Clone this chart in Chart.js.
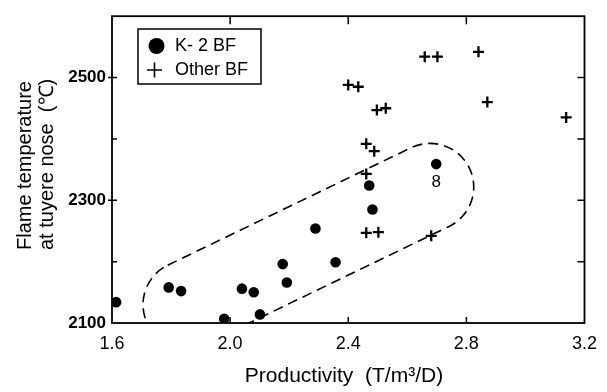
<!DOCTYPE html>
<html>
<head>
<meta charset="utf-8">
<script src="https://cdn.jsdelivr.net/npm/chart.js@4/dist/chart.umd.min.js"></script>
<style>
  html, body { margin: 0; padding: 0; background: #ffffff; }
  #wrap { width: 607px; height: 392px; position: relative; }
</style>
</head>
<body>
<div id="wrap"><canvas id="c" width="607" height="392"></canvas></div>
<script>
// ---- data ----
const k2Productivity = [1.614, 1.792, 1.834, 1.980, 2.040, 2.080, 2.101, 2.178, 2.192, 2.289, 2.357, 2.471, 2.482, 2.698];
const k2FlameTemp    = [2134, 2158, 2152, 2107, 2156, 2150, 2114, 2196, 2166, 2254, 2199, 2324, 2285, 2359];

const otherProductivity = [2.400, 2.434, 2.497, 2.527, 2.659, 2.702, 2.841, 2.871, 3.138, 2.461, 2.488, 2.461, 2.461, 2.502, 2.681];
const otherFlameTemp    = [2488, 2485, 2447, 2450, 2534, 2534, 2542, 2460, 2435, 2392, 2380, 2343, 2247, 2248, 2242];

const xTicks = [1.6, 2.0, 2.4, 2.8, 3.2];
const xTickLabels = ['1.6', '2.0', '2.4', '2.8', '3.2'];
const yTicks = [2100, 2200, 2300, 2400, 2500, 2600];
const yTickLabels = ['2100', '', '2300', '', '2500', ''];

const seriesNames = ['K- 2 BF', 'Other BF'];
const xTitle = 'Productivity  (T/m\u00B3/D)';
const yTitleLines = ['Flame temperature', 'at tuyere nose  (\u2103)'];

// dashed envelope around K-2 BF points: centre-line ends (data units) and radius (x units)
const envelopeEnds = [[1.853, 2130], [2.677, 2321.5]];
const envelopeRadiusX = 0.148;
// annotation "8" beside the highlighted point
const noteText = '8';
const notePoint = [2.698, 2329];

const FONT = "'Liberation Sans', Arial, sans-serif";

const k2Data = k2Productivity.map((x, i) => ({ x: x, y: k2FlameTemp[i] }));
const otherData = otherProductivity.map((x, i) => ({ x: x, y: otherFlameTemp[i] }));

const decor = {
  id: 'decor',
  afterDraw(chart) {
    const ctx = chart.ctx;
    const a = chart.chartArea;
    const xs = chart.scales.x, ys = chart.scales.y;
    ctx.save();
    ctx.strokeStyle = '#000';
    ctx.fillStyle = '#000';

    // frame
    ctx.lineWidth = 1.8;
    ctx.strokeRect(a.left, a.top, a.right - a.left, a.bottom - a.top);

    // inward ticks
    ctx.lineWidth = 1.5;
    ctx.beginPath();
    xTicks.forEach(v => {
      const p = xs.getPixelForValue(v);
      if (p <= a.left + 1 || p >= a.right - 1) return;
      ctx.moveTo(p, a.bottom); ctx.lineTo(p, a.bottom - 6);
      ctx.moveTo(p, a.top); ctx.lineTo(p, a.top + 8);
    });
    yTicks.forEach((v, i) => {
      const p = ys.getPixelForValue(v);
      if (p <= a.top + 1 || p >= a.bottom - 1) return;
      ctx.moveTo(a.right, p); ctx.lineTo(a.right - 7, p);
      ctx.moveTo(a.left, p); ctx.lineTo(a.left + 5, p);
      if (yTickLabels[i]) { ctx.moveTo(a.left, p); ctx.lineTo(a.left - 4, p); }
    });
    ctx.stroke();

    // dashed envelope
    ctx.save();
    ctx.beginPath();
    ctx.rect(a.left, a.top, a.right - a.left, a.bottom - a.top);
    ctx.clip();
    const c1 = { x: xs.getPixelForValue(envelopeEnds[0][0]), y: ys.getPixelForValue(envelopeEnds[0][1]) };
    const c2 = { x: xs.getPixelForValue(envelopeEnds[1][0]), y: ys.getPixelForValue(envelopeEnds[1][1]) };
    const r = xs.getPixelForValue(envelopeEnds[0][0] + envelopeRadiusX) - c1.x;
    const dx = c2.x - c1.x, dy = c2.y - c1.y, L = Math.hypot(dx, dy);
    const ux = dy / L, uy = -dx / L;
    const phi = Math.atan2(uy, ux);
    ctx.setLineDash([10, 6]);
    ctx.lineWidth = 1.6;
    ctx.beginPath();
    ctx.moveTo(c1.x + r * ux, c1.y + r * uy);
    ctx.lineTo(c2.x + r * ux, c2.y + r * uy);
    ctx.arc(c2.x, c2.y, r, phi, phi + Math.PI, false);
    ctx.lineTo(c1.x - r * ux, c1.y - r * uy);
    ctx.arc(c1.x, c1.y, r, phi + Math.PI, phi + 2 * Math.PI, false);
    ctx.stroke();
    ctx.restore();
    ctx.setLineDash([]);

    // note "8"
    ctx.font = '17px ' + FONT;
    ctx.textAlign = 'center';
    ctx.textBaseline = 'middle';
    ctx.fillText(noteText, xs.getPixelForValue(notePoint[0]), ys.getPixelForValue(notePoint[1]));

    // legend box
    const lx = 138, ly = 29, lw = 123, lh = 55;
    ctx.fillStyle = '#fff';
    ctx.fillRect(lx, ly, lw, lh);
    ctx.fillStyle = '#000';
    ctx.lineWidth = 1.5;
    ctx.strokeRect(lx, ly, lw, lh);
    ctx.beginPath();
    ctx.arc(156.5, 46, 8, 0, Math.PI * 2);
    ctx.fill();
    ctx.lineWidth = 1.6;
    ctx.beginPath();
    ctx.moveTo(147, 70); ctx.lineTo(162, 70);
    ctx.moveTo(154.5, 62.5); ctx.lineTo(154.5, 77.5);
    ctx.stroke();
    ctx.font = '18px ' + FONT;
    ctx.textAlign = 'left';
    ctx.textBaseline = 'middle';
    ctx.fillText(seriesNames[0], 175, 46);
    ctx.fillText(seriesNames[1], 175, 70);

    // x title
    ctx.font = '21px ' + FONT;
    ctx.textAlign = 'center';
    ctx.textBaseline = 'middle';
    ctx.fillText(xTitle, 344, 376);

    // y title (two lines, start-aligned at bottom)
    ctx.font = '20px ' + FONT;
    ctx.textAlign = 'left';
    ctx.textBaseline = 'middle';
    [[25, yTitleLines[0]], [47, yTitleLines[1]]].forEach(([x, t]) => {
      ctx.save();
      ctx.translate(x, 250);
      ctx.rotate(-Math.PI / 2);
      ctx.fillText(t, 0, 0);
      ctx.restore();
    });
    ctx.restore();
  }
};

new Chart(document.getElementById('c'), {
  type: 'scatter',
  data: {
    datasets: [
      {
        label: seriesNames[0],
        data: k2Data,
        pointStyle: 'circle',
        pointRadius: 5.3,
        pointHoverRadius: 5.3,
        backgroundColor: '#000',
        borderColor: '#000',
        borderWidth: 0
      },
      {
        label: seriesNames[1],
        data: otherData,
        pointStyle: 'cross',
        pointRadius: 5.5,
        pointHoverRadius: 5.5,
        backgroundColor: '#000',
        borderColor: '#000',
        pointBorderWidth: 2.3,
        borderWidth: 2.3
      }
    ]
  },
  options: {
    responsive: false,
    animation: false,
    events: [],
    layout: { padding: { top: 6, right: 22, left: 0, bottom: 0 } },
    plugins: { legend: { display: false }, tooltip: { enabled: false } },
    scales: {
      x: {
        type: 'linear',
        min: 1.6, max: 3.2,
        grid: { display: false, drawTicks: false },
        border: { display: false },
        afterBuildTicks: s => { s.ticks = xTicks.map(v => ({ value: v })); },
        afterFit: s => { s.height = 69; },
        ticks: {
          padding: 10,
          color: '#000',
          font: { family: FONT, size: 18 },
          maxRotation: 0,
          autoSkip: false,
          callback: (v) => { const i = xTicks.findIndex(t => Math.abs(t - v) < 1e-6); return i >= 0 ? xTickLabels[i] : ''; }
        }
      },
      y: {
        type: 'linear',
        min: 2100, max: 2600,
        grid: { display: false, drawTicks: false },
        border: { display: false },
        afterBuildTicks: s => { s.ticks = yTicks.map(v => ({ value: v })); },
        afterFit: s => { s.width = 112; },
        ticks: {
          padding: 6,
          color: '#000',
          font: { family: FONT, size: 17, weight: 'bold' },
          autoSkip: false,
          callback: (v) => { const i = yTicks.indexOf(v); return i >= 0 ? yTickLabels[i] : ''; }
        }
      }
    }
  },
  plugins: [decor]
});
</script>
</body>
</html>
